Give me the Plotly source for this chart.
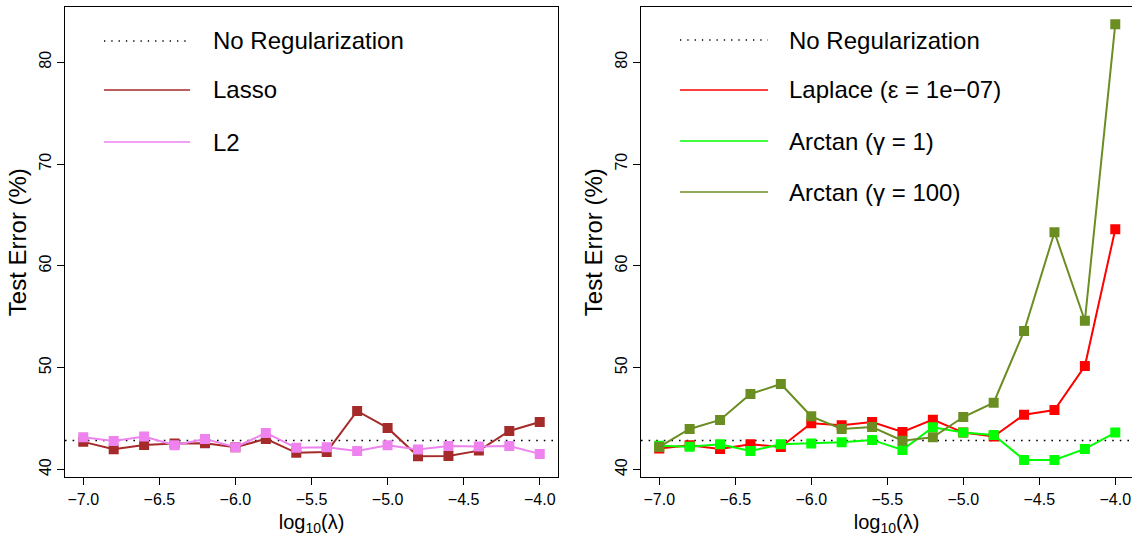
import plotly.graph_objects as go

# ---------------- data ----------------
log_lambda = [-7.0, -6.8, -6.6, -6.4, -6.2, -6.0, -5.8, -5.6,
              -5.4, -5.2, -5.0, -4.8, -4.6, -4.4, -4.2, -4.0]
no_reg = 42.85

lasso = [42.72, 41.99, 42.42, 42.55, 42.58, 42.19, 43.01, 41.64,
         41.73, 45.75, 44.09, 41.31, 41.34, 41.86, 43.79, 44.67]
l2 = [43.17, 42.81, 43.24, 42.39, 43.01, 42.19, 43.60, 42.13,
      42.19, 41.83, 42.39, 41.96, 42.32, 42.26, 42.32, 41.54]

laplace = [42.06, 42.39, 42.03, 42.49, 42.22, 44.54, 44.34, 44.67,
           43.69, 44.90, 43.63, 43.24, 45.39, 45.85, 50.17, 63.60]
arctan1 = [42.35, 42.25, 42.49, 41.83, 42.49, 42.55, 42.68, 42.91,
           41.93, 44.15, 43.63, 43.40, 40.95, 40.95, 42.03, 43.63]
arctan100 = [42.22, 43.99, 44.87, 47.42, 48.40, 45.23, 43.99, 44.18,
             42.84, 43.17, 45.16, 46.57, 53.60, 63.30, 54.61, 83.73]

x_ticks = [-7.0, -6.5, -6.0, -5.5, -5.0, -4.5, -4.0]
y_ticks = [40, 50, 60, 70, 80]

left_series = [("Lasso", lasso, "#A52A2A"), ("L2", l2, "#EE82EE")]
right_series = [("Laplace (ε = 1e−07)", laplace, "#FF0000"),
                ("Arctan (γ = 1)", arctan1, "#00FF00"),
                ("Arctan (γ = 100)", arctan100, "#6B8E23")]

# ---------------- figure ----------------
W, H = 1132, 538
FONT = "Liberation Sans, Arial, Helvetica, sans-serif"

fig = go.Figure()

for name, vals, col in left_series:
    fig.add_trace(go.Scatter(x=log_lambda, y=vals, mode="lines+markers", name=name,
                             line=dict(color=col, width=2),
                             marker=dict(symbol="square", size=10, color=col),
                             xaxis="x", yaxis="y", showlegend=False))
for name, vals, col in right_series:
    fig.add_trace(go.Scatter(x=log_lambda, y=vals, mode="lines+markers", name=name,
                             line=dict(color=col, width=2),
                             marker=dict(symbol="square", size=10, color=col),
                             xaxis="x2", yaxis="y2", showlegend=False))

# no-regularization reference line in both panels
for xr, yr in (("x domain", "y"), ("x2 domain", "y2")):
    fig.add_shape(type="line", xref=xr, yref=yr, x0=0, x1=1, y0=no_reg, y1=no_reg,
                  line=dict(color="black", width=1.6, dash="1.6px,6px"), layer="below")

# legends (drawn manually, R style)
def px(x):
    return x / W

def py(y):
    return 1 - y / H

def legend(entries, x_line0, x_line1, x_text, rows):
    for (label, col, dash, lw), yy in zip(entries, rows):
        fig.add_shape(type="line", xref="paper", yref="paper",
                      x0=px(x_line0), x1=px(x_line1), y0=py(yy), y1=py(yy),
                      line=dict(color=col, width=lw, dash=dash))
        fig.add_annotation(xref="paper", yref="paper", x=px(x_text), y=py(yy),
                           text=label, showarrow=False, xanchor="left", yanchor="middle",
                           font=dict(family=FONT, size=24, color="black"))

legend([("No Regularization", "black", "1.3px,6px", 1.3)] +
       [(n, c, "solid", 1.5) for n, _, c in left_series],
       104, 190, 211, [41, 90, 142])
legend([("No Regularization", "black", "1.3px,6px", 1.3)] +
       [(n, c, "solid", 1.5) for n, _, c in right_series],
       680, 768, 787, [40, 90, 141, 192])

xrange_l = [-7.12, -3.88]
xrange_r = [-7.12, -3.89]
yrange = [39.24, 85.42]

axis_common = dict(showline=True, linecolor="black", linewidth=1, mirror=True,
                   ticks="outside", ticklen=7, tickcolor="black", tickwidth=1,
                   showgrid=False, zeroline=False,
                   tickfont=dict(family=FONT, size=16, color="black"))

xcommon = dict(axis_common, tickvals=x_ticks, tickformat=".1f",
               title=dict(text="log<sub>10</sub>(λ)", standoff=8,
                          font=dict(family=FONT, size=20, color="black")))
ycommon = dict(axis_common, tickvals=y_ticks, tickangle=-90, range=yrange,
               title=dict(text="Test Error (%)", standoff=3,
                          font=dict(family=FONT, size=24, color="black")))

ydom = [1 - 477.3 / H, 1 - 7 / H]

fig.update_layout(
    width=W, height=H,
    margin=dict(l=0, r=0, t=0, b=0),
    paper_bgcolor="white", plot_bgcolor="white",
    xaxis=dict(xcommon, domain=[65 / W, 558 / W], range=xrange_l, anchor="y"),
    yaxis=dict(ycommon, domain=ydom, anchor="x"),
    xaxis2=dict(xcommon, domain=[641 / W, 1.0], range=xrange_r, anchor="y2"),
    yaxis2=dict(ycommon, domain=ydom, anchor="x2"),
    showlegend=False,
)

fig.write_html("out.html", config={"displayModeBar": False},
               post_script="document.body.style.margin='0';document.body.style.overflow='hidden';")
